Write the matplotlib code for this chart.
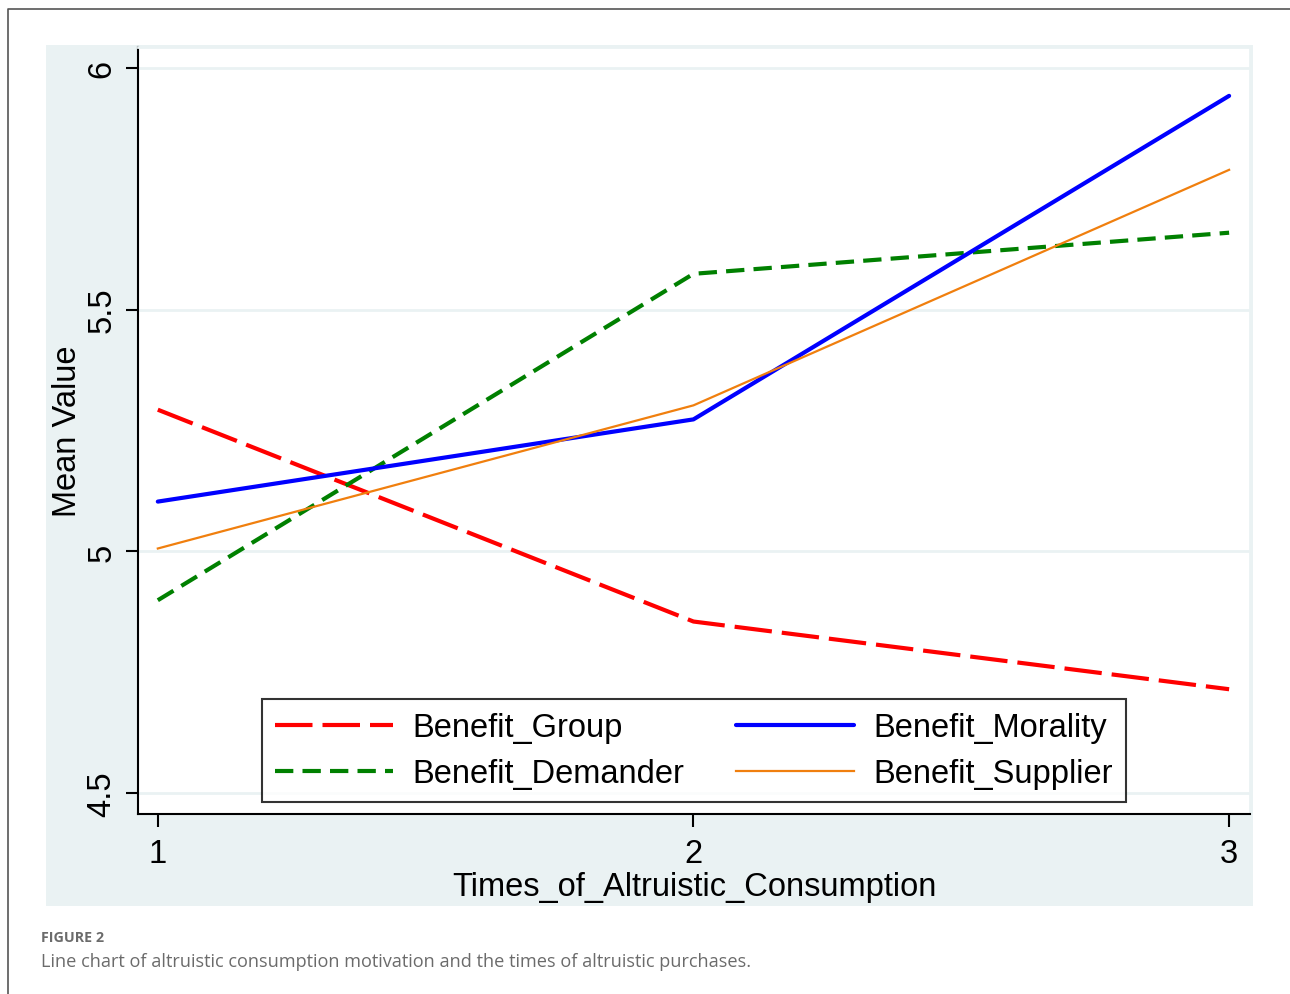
import matplotlib.pyplot as plt
from matplotlib.patches import Rectangle
from matplotlib.lines import Line2D

# data
times = [1, 2, 3]
benefit_group = [5.293, 4.855, 4.715]
benefit_morality = [5.103, 5.273, 5.942]
benefit_demander = [4.899, 5.574, 5.659]
benefit_supplier = [5.006, 5.302, 5.789]
y_ticks = [4.5, 5, 5.5, 6]
y_tick_labels = ['4.5', '5', '5.5', '6']

bg = '#eaf2f3'
fs = 23.5
plt.rcParams['font.family'] = ['Liberation Sans', 'DejaVu Sans']

fig = plt.figure(figsize=(12.9, 9.95), dpi=100)

# outer frame (left and top edges only)
fig.add_artist(Line2D([8 / 1290, 8 / 1290, 1.0], [0.0, 1 - 10 / 995, 1 - 10 / 995],
                      transform=fig.transFigure, color='#555555', lw=1.2))
# graph region background
fig.add_artist(Rectangle((46 / 1290, 1 - 907 / 995), (1253 - 46) / 1290, (907 - 46) / 995,
                         transform=fig.transFigure, facecolor=bg, edgecolor='none', zorder=0))

ax = fig.add_axes([138 / 1290, 1 - 815 / 995, (1250 - 138) / 1290, (815 - 48) / 995])
ax.set_facecolor('white')

ax.plot(times, benefit_group, color='#ff0000', lw=3, dashes=(9, 2.4),
        label='Benefit_Group', dash_capstyle='butt')
ax.plot(times, benefit_demander, color='#008000', lw=3, dashes=(4.4, 2.2),
        label='Benefit_Demander', dash_capstyle='butt')
ax.plot(times, benefit_morality, color='#0000ff', lw=3, label='Benefit_Morality',
        solid_capstyle='round')
ax.plot(times, benefit_supplier, color='#f07f0e', lw=1.6, label='Benefit_Supplier')

ax.set_xlim(0.963, 3.039)
ax.set_ylim(4.457, 6.043)
ax.set_xticks(times)
ax.set_xticklabels([str(t) for t in times], fontsize=fs)
ax.set_yticks(y_ticks)
ax.set_yticklabels(y_tick_labels, fontsize=fs, rotation=90, va='center')
ax.tick_params(axis='both', direction='out', length=9, width=1.5, color='black')
ax.tick_params(axis='x', pad=8)
ax.tick_params(axis='y', pad=6)

ax.grid(axis='y', color=bg, lw=2)
ax.set_axisbelow(True)
for s in ['left', 'bottom']:
    ax.spines[s].set_color('black')
    ax.spines[s].set_linewidth(1.5)
for s in ['top', 'right']:
    ax.spines[s].set_color(bg)
    ax.spines[s].set_linewidth(2)

ax.set_ylabel('Mean Value', fontsize=fs, labelpad=2)
ax.set_xlabel('Times_of_Altruistic_Consumption', fontsize=fs, labelpad=2)

leg = ax.legend(ncol=2, loc='lower center', bbox_to_anchor=(0.5, 0.0156),
                borderaxespad=0, fontsize=fs, frameon=True, fancybox=False,
                handlelength=3.6, columnspacing=1.6, labelspacing=0.45,
                handletextpad=0.6, borderpad=0.4)
leg.get_frame().set_edgecolor('black')
leg.get_frame().set_linewidth(1.5)

fig.text(41 / 1290, 1 - 938 / 995, 'FIGURE 2', fontsize=10.3, fontweight='bold',
         color='#6b6b6b', family=['Open Sans', 'DejaVu Sans'], va='center')
fig.text(41 / 1290, 1 - 962 / 995,
         'Line chart of altruistic consumption motivation and the times of altruistic purchases.',
         fontsize=13.1, color='#6b6b6b', family=['Open Sans', 'DejaVu Sans'], va='center')

fig.savefig('out.png', dpi=100)
